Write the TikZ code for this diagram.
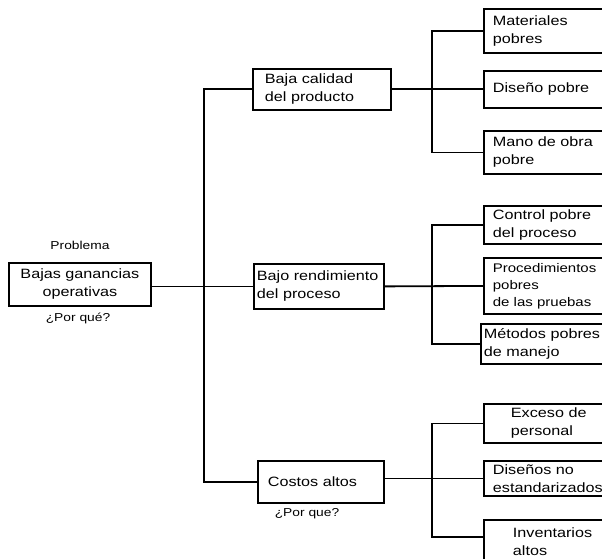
\documentclass[tikz,border=0pt]{standalone}
\usepackage{fontspec}
\setmainfont{Liberation Sans}[FakeStretch=1.2]
\begin{document}
\begin{tikzpicture}[x=1pt,y=-1pt,
  bx/.style={draw, line width=1.8pt, align=left, inner ysep=2pt,
    font=\fontsize{13.5}{18}\selectfont},
  rbox/.style={bx, anchor=north west, text width=125pt, inner xsep=9pt},
  mbox/.style={bx, anchor=north west, text width=#1},
  lbl/.style={font=\fontsize{11.5}{14}\selectfont},
  ln/.style={line width=1.8pt}]
\useasboundingbox (0,0) rectangle (602,559);
\clip (0,0) rectangle (602,559);
% root
\node[bx, anchor=north west, minimum width=142pt, minimum height=43pt, align=center] (P) at (8,262) {Bajas ganancias\\operativas};
\node[lbl] (pl) at (80,245) {Problema};
\node[lbl] (pq) at (78,318) {¿Por qué?};
% middle
\node[mbox=114pt, inner xsep=12pt, minimum height=41pt] (A) at (252,68) {Baja calidad\\del producto};
\node[mbox=124pt, inner xsep=3pt, minimum height=45pt] (B) at (253,263) {Bajo rendimiento\\del proceso};
\node[mbox=106pt, inner xsep=10pt, minimum height=42pt] (C) at (257,460) {Costos altos};
\node[lbl] (cq) at (307,514) {¿Por que?};
% right column
\node[rbox, minimum height=44pt] (A1) at (483,8) {Materiales\\pobres};
\node[rbox, minimum height=37pt] (A2) at (483,70) {Diseño pobre};
\node[rbox, minimum height=43pt] (A3) at (483,130) {Mano de obra\\pobre};
\node[rbox, minimum height=38pt] (B1) at (483,205) {Control pobre\\del proceso};
\node[rbox, minimum height=56pt, inner xsep=9pt, font=\fontsize{12.5}{17}\selectfont] (B2) at (483,257) {Procedimientos\\pobres\\de las pruebas};
\node[rbox, minimum height=40pt, inner xsep=3pt] (B3) at (480,323) {Métodos pobres\\de manejo};
\node[rbox, minimum height=39pt, inner xsep=27pt] (C1) at (483,403) {Exceso de\\personal};
\node[rbox, minimum height=35pt] (C2) at (483,460) {Diseños no\\estandarizados};
\node[rbox, minimum height=44pt, inner xsep=29pt] (C3) at (483,519) {Inventarios\\altos};
% trunks
\coordinate (t) at (204,0);
\coordinate (s) at (432,0);
\draw[ln] (P.east |- B.west) -- (B.west);
\draw[ln] (A.west) -- (A.west -| t) -- (C.west -| t) -- (C.west);
\draw[ln] (A.east) -- (A2.west);
\draw[ln] (A1.west) -- (A1.west -| s) -- (A3.west -| s) -- (A3.west);
\draw[ln] (B.east) -- (B2.west);
\draw[ln] (B1.west) -- (B1.west -| s) -- (B3.west -| s) -- (B3.west);
\draw[ln] (C.east |- C2.west) -- (C2.west);
\draw[ln] (C1.west) -- (C1.west -| s) -- ([yshift=-18pt]C3.north west -| s) -- ([yshift=-18pt]C3.north west);
\end{tikzpicture}
\end{document}
